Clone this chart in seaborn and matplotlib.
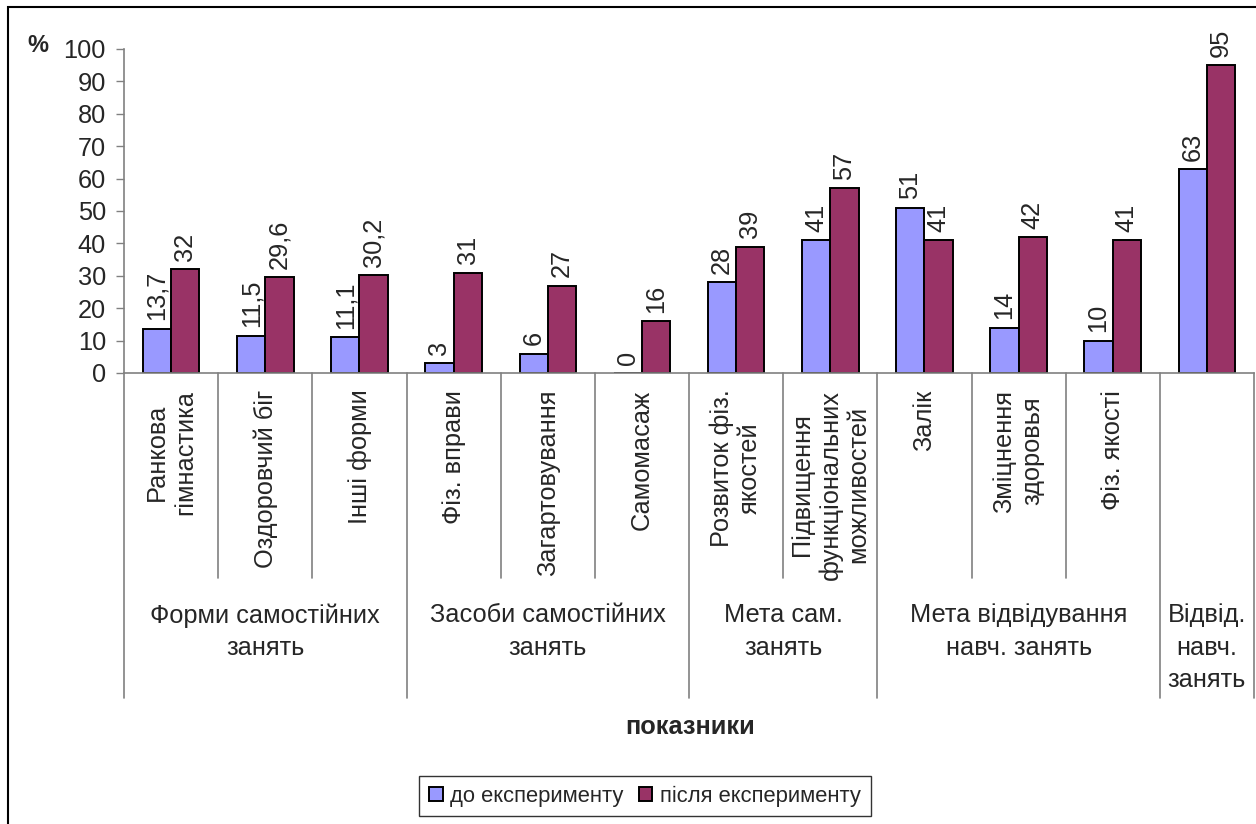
import matplotlib
matplotlib.use("Agg")
import matplotlib.pyplot as plt
import matplotlib.patches as mpatches
from matplotlib.lines import Line2D
import seaborn as sns
import pandas as pd

# data
categories = ["Ранкова\nгімнастика", "Оздоровчий біг", "Інші форми",
              "Фіз. вправи", "Загартовування", "Самомасаж",
              "Розвиток фіз.\nякостей", "Підвищення\nфункціональних\nможливостей",
              "Залік", "Зміцнення\nздоровья", "Фіз. якості", " "]
before = [13.7, 11.5, 11.1, 3, 6, 0, 28, 41, 51, 14, 10, 63]
after = [32, 29.6, 30.2, 31, 27, 16, 39, 57, 41, 42, 41, 95]
before_txt = ["13,7", "11,5", "11,1", "3", "6", "0", "28", "41", "51", "14", "10", "63"]
after_txt = ["32", "29,6", "30,2", "31", "27", "16", "39", "57", "41", "42", "41", "95"]
series = ["до експерименту", "після експерименту"]
groups = ["Форми самостійних\nзанять", "Засоби самостійних\nзанять", "Мета сам.\nзанять",
          "Мета відвідування\nнавч. занять", "Відвід.\nнавч.\nзанять"]
group_sizes = [3, 3, 2, 3, 1]
colors = ["#9999FF", "#993366"]

df = pd.DataFrame({
    "cat": categories * 2,
    "value": before + after,
    "series": [series[0]] * len(categories) + [series[1]] * len(categories),
})

sns.set_style("white")
plt.rcParams["font.family"] = ["Liberation Sans", "DejaVu Sans"]
fs = 18.3

fig = plt.figure(figsize=(12.56, 8.24), dpi=100)
W, H = 1256, 824
ax = fig.add_axes([124 / W, 1 - 373 / H, (1254 - 124) / W, (373 - 49) / H])

sns.barplot(data=df, x="cat", y="value", hue="series", order=categories,
            hue_order=series, palette=colors, saturation=1, width=0.6, gap=0,
            edgecolor="black", linewidth=1.4, ax=ax)

# value labels
for cont, txts in zip(ax.containers, [before_txt, after_txt]):
    for bar, t in zip(cont, txts):
        ax.annotate(t, (bar.get_x() + bar.get_width() / 2, bar.get_height()),
                    xytext=(0, 6), textcoords="offset points",
                    rotation=90, ha="center", va="bottom", fontsize=fs)

ax.set_ylim(0, 100)
ax.set_xlim(-0.5, len(categories) - 0.5)
ax.set_yticks(range(0, 101, 10))
ax.tick_params(axis="y", labelsize=fs, length=6, pad=7, color="#808080", left=True, width=1)
ax.tick_params(axis="x", length=0, pad=12, labelsize=fs)
ax.set_xticks(range(len(categories)))
ax.set_xticklabels(categories, rotation=90, va="top", ha="center", fontsize=fs)
ax.set_xlabel("")
ax.set_ylabel("")
for s in ["top", "right"]:
    ax.spines[s].set_visible(False)
for s in ["left", "bottom"]:
    ax.spines[s].set_color("#808080")
    ax.spines[s].set_linewidth(1.2)

# category dividers and group labels
tr = ax.get_xaxis_transform()
short_y = -(578 - 373) / 324
long_y = -(698 - 373) / 324
start = 0
bounds = [-0.5]
for g, n in zip(groups, group_sizes):
    for k in range(1, n):
        ax.add_line(Line2D([start + k - 0.5] * 2, [0, short_y], transform=tr,
                           color="#808080", lw=1.2, clip_on=False))
    ax.text(start + (n - 1) / 2, -(603 - 373) / 324, g, transform=tr,
            ha="center", va="top", fontsize=fs, linespacing=1.45, clip_on=False)
    start += n
    bounds.append(start - 0.5)
for b in bounds:
    ax.add_line(Line2D([b, b], [0, long_y], transform=tr,
                       color="#808080", lw=1.2, clip_on=False))

fig.text(38 / W, 1 - 46 / H, "%", fontsize=17, fontweight="bold", ha="center", va="center")
fig.text(690 / W, 1 - 727 / H, "показники", fontsize=fs, fontweight="bold",
         ha="center", va="center")

handles, labels = ax.get_legend_handles_labels()
ax.get_legend().remove()
leg = fig.legend(handles, labels, loc="center", bbox_to_anchor=(645 / W, 1 - 796 / H),
                 ncol=2, fontsize=15.8, frameon=True, fancybox=False, edgecolor="black",
                 handlelength=0.6, handleheight=0.6, handletextpad=0.35,
                 columnspacing=0.7, borderpad=0.45, borderaxespad=0)
leg.get_frame().set_linewidth(1.0)

# outer chart border
fig.patches.append(mpatches.Rectangle((8 / W, -0.1), 1.2, 1.1 - 7 / H,
                                      transform=fig.transFigure, fill=False,
                                      edgecolor="black", lw=1.5))

fig.savefig("out.png", dpi=100)
